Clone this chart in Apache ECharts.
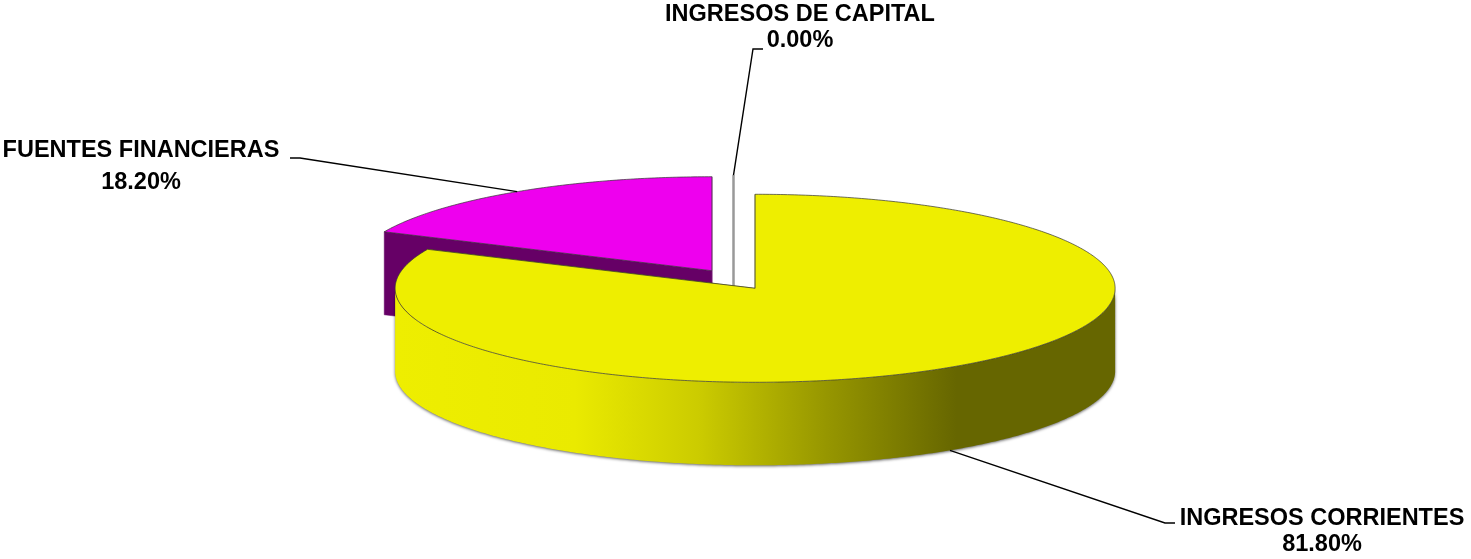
<!DOCTYPE html>
<html>
<head>
<meta charset="utf-8">
<script src="https://cdn.jsdelivr.net/npm/echarts@6/dist/echarts.min.js"></script>
<style>
  html, body { margin: 0; padding: 0; background: #fff; }
  #main { width: 1471px; height: 559px; }
</style>
</head>
<body>
<div id="main"></div>
<script>
// datos del gráfico
var categories = ['INGRESOS CORRIENTES', 'FUENTES FINANCIERAS', 'INGRESOS DE CAPITAL'];
var values = [81.8, 18.2, 0.0];
var percentLabels = ['81.80%', '18.20%', '0.00%'];

// colores: cara superior y lado oscuro
var topColors = ['#eeee00', '#ee00ee', '#ffffff'];
var sideColors = ['#666600', '#660066', '#999999'];

// posición de las etiquetas (píxeles)
var labelLayout = [
  { x: 1322, y1: 518.5, y2: 544.5, elbow: [1165, 523], end: [1175, 523] },
  { x: 141, y1: 151, y2: 182.5, elbow: [300, 158], end: [290, 158] },
  { x: 800, y1: 14.5, y2: 41, elbow: [753, 49], end: [763, 49] }
];

var EXPLODE = 0.111;   // separación de las porciones (radio = 1)
var DEPTH = 0.883;     // grosor del pastel en unidades del eje y

function hex(c) { return [parseInt(c.substr(1, 2), 16), parseInt(c.substr(3, 2), 16), parseInt(c.substr(5, 2), 16)]; }
function mix(c1, c2, t) {
  var a = hex(c1), b = hex(c2);
  return 'rgb(' + a.map(function (v, k) { return Math.round(v + (b[k] - v) * t); }).join(',') + ')';
}

// ángulos (sentido horario desde arriba)
var total = values.reduce(function (s, v) { return s + v; }, 0);
var slices = [];
var acc = 0;
values.forEach(function (v, i) {
  var a0 = acc / total * Math.PI * 2;
  acc += v;
  var a1 = acc / total * Math.PI * 2;
  var mid = (a0 + a1) / 2;
  slices.push({ a0: a0, a1: a1, mid: mid, cx: EXPLODE * Math.sin(mid), cy: EXPLODE * Math.cos(mid) });
});
// orden de pintado: del fondo hacia el frente
var order = slices.map(function (s, i) { return i; }).sort(function (a, b) { return slices[b].cy - slices[a].cy; });

var myChart = echarts.init(document.getElementById('main'));

function renderItem(params, api) {
  var i = params.dataIndex;
  var s = slices[i];
  var base = order.indexOf(i) * 10;
  var children = [];

  function pt(a, r, down) {
    return api.coord([s.cx + r * Math.sin(a), s.cy + r * Math.cos(a) - (down ? DEPTH : 0)]);
  }
  function arc(a0, a1, down) {
    var pts = [];
    var n = Math.max(2, Math.ceil((a1 - a0) / 0.01));
    for (var k = 0; k <= n; k++) pts.push(pt(a0 + (a1 - a0) * k / n, 1, down));
    return pts;
  }

  // caras radiales
  [s.a0, s.a1].forEach(function (a) {
    children.push({
      type: 'polygon', z2: base + 1,
      shape: { points: [pt(a, 0, false), pt(a, 1, false), pt(a, 1, true), pt(a, 0, true)] },
      style: { fill: sideColors[i], stroke: i === 2 ? '#999999' : sideColors[i], lineWidth: i === 2 ? 2 : 0.5 }
    });
  });

  // pared exterior visible (mitad delantera)
  var w0 = Math.max(s.a0, Math.PI / 2), w1 = Math.min(s.a1, Math.PI * 1.5);
  if (w1 > w0) {
    var topArc = arc(w0, w1, false);
    var botArc = arc(w0, w1, true).reverse();
    children.push({
      type: 'polygon', z2: base + 2,
      shape: { points: topArc.concat(botArc) },
      style: {
        fill: {
          type: 'linear', x: 0, y: 0, x2: 1, y2: 0,
          colorStops: [
            { offset: 0, color: topColors[i] },
            { offset: 0.25, color: mix(topColors[i], sideColors[i], 0.03) },
            { offset: 0.42, color: mix(topColors[i], sideColors[i], 0.25) },
            { offset: 0.6, color: mix(topColors[i], sideColors[i], 0.65) },
            { offset: 0.78, color: sideColors[i] },
            { offset: 1, color: sideColors[i] }
          ]
        },
        shadowBlur: 3, shadowColor: 'rgba(0,0,0,0.6)', shadowOffsetY: 1
      }
    });
  }

  // cara superior
  if (s.a1 > s.a0) {
    children.push({
      type: 'polygon', z2: base + 3,
      shape: { points: [pt(0, 0, false)].concat(arc(s.a0, s.a1, false)) },
      style: { fill: topColors[i], stroke: '#333', lineWidth: 0.7 }
    });
  }

  // línea guía y etiqueta
  var L = labelLayout[i];
  var front = Math.cos(s.mid) < 0;
  var anchor = pt(s.mid, 1, front);
  children.push({
    type: 'polyline', z2: 100,
    shape: { points: [anchor, L.elbow, L.end] },
    style: { stroke: '#000', lineWidth: 1.4, fill: null }
  });
  var font = 'bold 23.5px Arial, "Liberation Sans", sans-serif';
  children.push({
    type: 'text', z2: 101,
    style: { text: categories[i], x: L.x, y: L.y1, fill: '#000', font: font, align: 'center', verticalAlign: 'middle' }
  });
  children.push({
    type: 'text', z2: 101,
    style: { text: percentLabels[i], x: L.x, y: L.y2, fill: '#000', font: font, align: 'center', verticalAlign: 'middle' }
  });

  return { type: 'group', children: children };
}

myChart.setOption({
  animation: false,
  grid: { left: 0, right: 0, top: 0, bottom: 0 },
  xAxis: { type: 'value', min: -733.5 / 360, max: (1471 - 733.5) / 360, show: false },
  yAxis: { type: 'value', min: -279.5 / 94, max: 279.5 / 94, show: false },
  series: [{
    type: 'custom',
    name: 'Ingresos',
    renderItem: renderItem,
    data: values.map(function (v, i) { return [i, v]; })
  }]
});
</script>
</body>
</html>
